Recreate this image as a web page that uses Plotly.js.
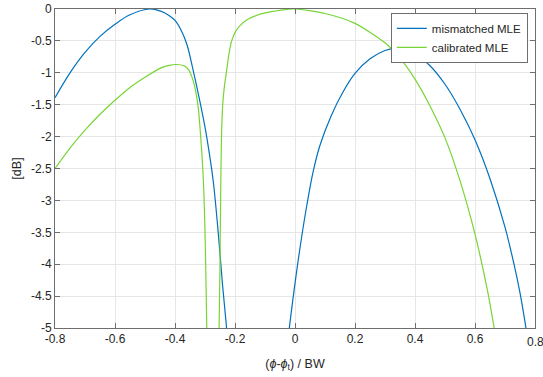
<!DOCTYPE html>
<html>
<head>
<meta charset="utf-8">
<script src="https://cdn.plot.ly/plotly-3.0.1.min.js"></script>
<style>html,body{margin:0;padding:0;background:#fff;}#chart{width:543px;height:377px;}</style>
</head>
<body>
<div id="chart"></div>
<script>
// mismatched MLE (blue): left lobe, then right lobe (curve falls below -5 dB between them)
const blueLeftX  = [-0.8, -0.75, -0.7, -0.65, -0.6, -0.55, -0.483, -0.45, -0.42, -0.40, -0.38, -0.36, -0.34, -0.32, -0.30, -0.286, -0.272, -0.256, -0.242, -0.228];
const blueLeftY  = [-1.39, -1.0, -0.68, -0.43, -0.24, -0.09, 0, -0.03, -0.10, -0.18, -0.33, -0.56, -0.95, -1.38, -1.85, -2.25, -2.72, -3.5, -4.3, -5];
const blueRightX = [-0.019, 0.0, 0.02, 0.04, 0.06, 0.083, 0.12, 0.16, 0.20, 0.25, 0.30, 0.337, 0.40, 0.45, 0.50, 0.55, 0.60, 0.65, 0.70, 0.73, 0.75, 0.77];
const blueRightY = [-5, -4.30, -3.64, -3.06, -2.56, -2.14, -1.68, -1.30, -1.01, -0.78, -0.65, -0.617, -0.70, -0.89, -1.18, -1.57, -2.05, -2.66, -3.42, -4.0, -4.45, -5];

// calibrated MLE (green)
const greenLeftX  = [-0.8, -0.75, -0.7, -0.65, -0.6, -0.55, -0.5, -0.45, -0.42, -0.395, -0.37, -0.355, -0.344, -0.335, -0.328, -0.322, -0.317, -0.309, -0.304, -0.300, -0.297, -0.294];
const greenLeftY  = [-2.5, -2.18, -1.90, -1.65, -1.43, -1.23, -1.07, -0.93, -0.885, -0.87, -0.89, -0.95, -1.06, -1.2, -1.37, -1.57, -1.84, -2.37, -2.84, -3.5, -4.2, -5];
const greenRightX = [-0.253, -0.250, -0.248, -0.245, -0.241, -0.235, -0.228, -0.220, -0.211, -0.198, -0.183, -0.16, -0.139, -0.1, -0.05, 0, 0.1, 0.2, 0.3, 0.35, 0.4, 0.45, 0.5, 0.55, 0.6, 0.641, 0.664];
const greenRightY = [-5, -4, -3, -2, -1.5, -1.2, -0.97, -0.7, -0.5, -0.35, -0.26, -0.17, -0.12, -0.06, -0.02, 0, -0.07, -0.225, -0.53, -0.77, -1.10, -1.52, -2.02, -2.69, -3.53, -4.4, -5];

const xTicks = [-0.8, -0.6, -0.4, -0.2, 0, 0.2, 0.4, 0.6, 0.8];
const xTickLabels = ['-0.8', '-0.6', '-0.4', '-0.2', '0', '0.2', '0.4', '0.6', '0.8'];
const yTicks = [-5, -4.5, -4, -3.5, -3, -2.5, -2, -1.5, -1, -0.5, 0];
const yTickLabels = ['-5', '-4.5', '-4', '-3.5', '-3', '-2.5', '-2', '-1.5', '-1', '-0.5', '0'];

const seriesNames = ['mismatched MLE', 'calibrated MLE'];

const FONT = 'Liberation Sans, Arial, sans-serif';
const TXT = '#262626';

const traces = [
  {
    x: blueLeftX.concat([null], blueRightX),
    y: blueLeftY.concat([null], blueRightY),
    name: seriesNames[0], mode: 'lines', connectgaps: false, cliponaxis: true,
    line: {color: '#0072BD', width: 1.2, shape: 'spline', smoothing: 1}
  },
  {
    x: greenLeftX.concat([null], greenRightX),
    y: greenLeftY.concat([null], greenRightY),
    name: seriesNames[1], mode: 'lines', connectgaps: false, cliponaxis: true,
    line: {color: '#77D535', width: 1.2, shape: 'spline', smoothing: 0.7}
  }
];

// the end tick label at the right edge is drawn as an annotation (Plotly drops it at the div edge)
const lastIdx = xTicks.length - 1;
const xTickTextShown = xTickLabels.map((t, i) => i === lastIdx ? '' : t);

const axisCommon = {
  showline: true, linecolor: '#6e6e6e', linewidth: 1, mirror: 'ticks',
  ticks: 'inside', ticklen: 5, tickcolor: '#6e6e6e', tickwidth: 1,
  showgrid: true, gridcolor: '#e6e6e6', gridwidth: 1, zeroline: false,
  ticklabeloverflow: 'allow',
  tickfont: {family: FONT, size: 12, color: TXT}
};

const layout = {
  width: 543, height: 377,
  margin: {l: 55, r: 8, t: 9, b: 49, pad: 0},
  paper_bgcolor: '#ffffff', plot_bgcolor: '#ffffff',
  font: {family: FONT, size: 12, color: TXT},
  showlegend: true,
  legend: {
    x: 0.985, y: 0.988, xanchor: 'right', yanchor: 'top',
    bgcolor: '#ffffff', bordercolor: '#6e6e6e', borderwidth: 1,
    font: {family: FONT, size: 11.5, color: TXT},
    tracegroupgap: 0, itemwidth: 30
  },
  xaxis: Object.assign({}, axisCommon, {
    range: [-0.8, 0.8], tickvals: xTicks, ticktext: xTickTextShown,
    title: {text: '(<i>ϕ</i>-<i>ϕ</i><sub>t</sub>) / BW', font: {family: FONT, size: 12.5, color: TXT}, standoff: 13}
  }),
  yaxis: Object.assign({}, axisCommon, {
    range: [-5, 0], tickvals: yTicks, ticktext: yTickLabels,
    title: {text: '[dB]', font: {family: FONT, size: 12.5, color: TXT}, standoff: 6}
  }),
  annotations: [{
    xref: 'x', yref: 'paper', x: xTicks[lastIdx], y: 0,
    xanchor: 'center', yanchor: 'top', yshift: -5, showarrow: false,
    text: xTickLabels[lastIdx], font: {family: FONT, size: 12, color: TXT}
  }]
};

Plotly.newPlot('chart', traces, layout, {staticPlot: true, displayModeBar: false});
</script>
</body>
</html>
